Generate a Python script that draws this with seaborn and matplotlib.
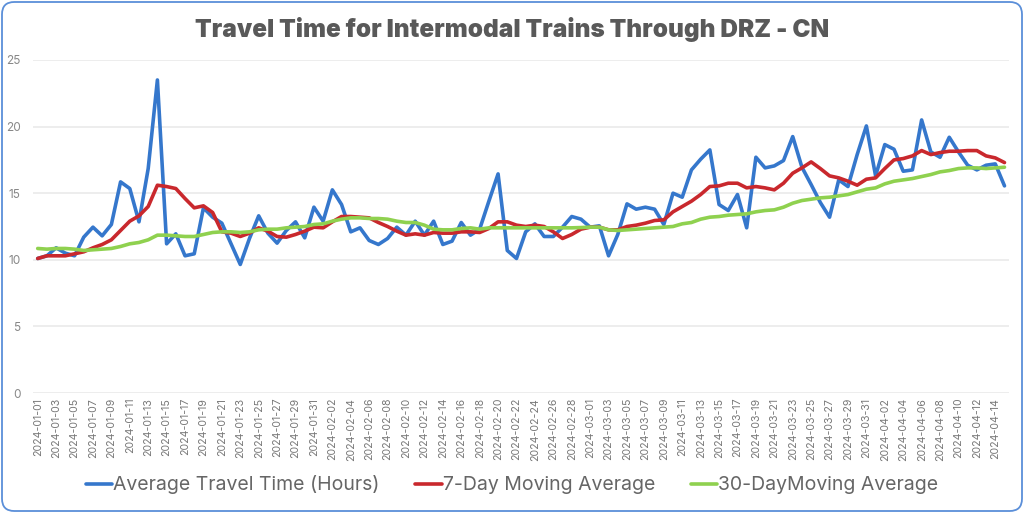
"""
Description: Travel time for intermodal trains through DRZ (CN), daily values
with the 7-day and 30-day moving averages.
"""

import matplotlib
matplotlib.use('Agg')

import matplotlib.pyplot as plt
from matplotlib.patches import FancyBboxPatch
import pandas as pd
import seaborn as sns

# values, one per day
DATES = pd.date_range('2024-01-01', '2024-04-15').strftime('%Y-%m-%d').tolist()

TRAVEL_TIME = [
    10.1, 10.3, 10.9, 10.5, 10.3, 11.7, 12.45, 11.8, 12.65, 15.85,
    15.35, 12.85, 16.85, 23.5, 11.2, 11.95, 10.3, 10.45, 13.9, 13.2,
    12.75, 11.2, 9.65, 11.6, 13.3, 12.0, 11.25, 12.2, 12.85, 11.65,
    13.95, 12.9, 15.25, 14.15, 12.1, 12.4, 11.45, 11.15, 11.6, 12.45,
    11.85, 12.9, 11.85, 12.9, 11.15, 11.4, 12.8, 11.85, 12.3, 14.4,
    16.45, 10.7, 10.1, 12.1, 12.7, 11.75, 11.75, 12.45, 13.25, 13.05,
    12.45, 12.55, 10.3, 11.9, 14.2, 13.8, 13.95, 13.8, 12.65, 15.0,
    14.7, 16.75, 17.55, 18.25, 14.15, 13.7, 14.9, 12.4, 17.7, 16.9,
    17.05, 17.45, 19.25, 16.95, 15.65, 14.3, 13.2, 16.0, 15.5, 17.9,
    20.05, 16.3, 18.65, 18.3, 16.65, 16.75, 20.5, 18.1, 17.7, 19.2,
    18.1, 17.1, 16.75, 17.1, 17.2, 15.55,
]

AVG_7_DAY = [
    10.1, 10.3, 10.3, 10.3, 10.45, 10.6, 10.9, 11.15, 11.5, 12.2,
    12.9, 13.3, 14.0, 15.6, 15.5, 15.35, 14.6, 13.9, 14.05, 13.55,
    12.1, 12.0, 11.75, 12.0, 12.4, 12.15, 11.75, 11.7, 11.9, 12.15,
    12.45, 12.4, 12.85, 13.25, 13.25, 13.2, 13.15, 12.8, 12.5, 12.15,
    11.85, 11.95, 11.85, 12.05, 12.0, 12.0, 12.1, 12.1, 12.05, 12.35,
    12.85, 12.85, 12.6, 12.5, 12.6, 12.5, 12.1, 11.6, 11.9, 12.3,
    12.45, 12.45, 12.25, 12.25, 12.5, 12.6, 12.75, 12.95, 13.0, 13.6,
    14.0, 14.4, 14.9, 15.5, 15.55, 15.75, 15.75, 15.4, 15.5, 15.4,
    15.25, 15.75, 16.5, 16.9, 17.35, 16.85, 16.3, 16.15, 15.9, 15.6,
    16.05, 16.15, 16.85, 17.5, 17.6, 17.8, 18.2, 17.9, 18.05, 18.15,
    18.15, 18.2, 18.2, 17.8, 17.65, 17.3,
]

AVG_30_DAY = [
    10.85, 10.8, 10.85, 10.85, 10.8, 10.7, 10.75, 10.8, 10.85, 11.0,
    11.2, 11.3, 11.5, 11.85, 11.85, 11.8, 11.75, 11.75, 11.9, 12.05,
    12.1, 12.1, 12.05, 12.1, 12.25, 12.3, 12.3, 12.4, 12.45, 12.5,
    12.65, 12.7, 12.9, 13.05, 13.15, 13.15, 13.1, 13.1, 13.05, 12.9,
    12.8, 12.8, 12.6, 12.3, 12.25, 12.25, 12.35, 12.4, 12.3, 12.4,
    12.4, 12.4, 12.4, 12.4, 12.4, 12.4, 12.4, 12.4, 12.4, 12.42,
    12.45, 12.45, 12.25, 12.2, 12.25, 12.3, 12.35, 12.4, 12.45, 12.5,
    12.7, 12.8, 13.05, 13.2, 13.25, 13.35, 13.4, 13.45, 13.6, 13.7,
    13.75, 13.95, 14.25, 14.45, 14.55, 14.65, 14.7, 14.8, 14.9, 15.1,
    15.3, 15.4, 15.7, 15.9, 16.0, 16.1, 16.25, 16.4, 16.6, 16.7,
    16.85, 16.9, 16.9, 16.85, 16.9, 16.95,
]

SERIES_NAMES = ['Average Travel Time (Hours)', '7-Day Moving Average', '30-DayMoving Average']
COLORS = ['#3577CC', '#C9282D', '#8FD14F']
Y_TICKS = [0, 5, 10, 15, 20, 25]

sns.set_style('white')
plt.rcParams['font.family'] = ['Inter', 'DejaVu Sans']

df = pd.DataFrame({
    'date': DATES * 3,
    'hours': TRAVEL_TIME + AVG_7_DAY + AVG_30_DAY,
    'series': [name for name in SERIES_NAMES for _ in DATES],
})

fig = plt.figure(figsize=(10.24, 5.13), dpi=100)
ax = fig.add_axes([33.1 / 1024, 1 - 393 / 513, 976 / 1024, 333 / 513])

# rounded card around the whole chart
fig.add_artist(FancyBboxPatch((2 / 1024, 2 / 513), 1020 / 1024, 509 / 513,
                              boxstyle='round,pad=0,rounding_size=0.012',
                              mutation_aspect=2, transform=fig.transFigure,
                              facecolor='none', edgecolor='#5B8FD9', linewidth=1.3))

sns.lineplot(data=df, x='date', y='hours', hue='series', hue_order=SERIES_NAMES,
             palette=COLORS, linewidth=2.6, sort=False, ax=ax)

ax.set_xlim(-0.5, len(DATES) - 0.5)
ax.set_ylim(0, 25)
ax.set_xlabel('')
ax.set_ylabel('')
ax.set_yticks(Y_TICKS)
ax.set_xticks(range(0, len(DATES), 2))
ax.set_xticklabels(DATES[::2], rotation=90, fontsize=7.6, color='#777777')
ax.tick_params(axis='x', length=0, pad=3.5)
ax.tick_params(axis='y', length=0, pad=9, labelsize=8.5, labelcolor='#888888')
ax.grid(axis='y', color='#E8E8E8', linewidth=1.1)
ax.set_axisbelow(True)
sns.despine(ax=ax, left=True, bottom=True)

fig.text(0.5, 1 - 29 / 513, 'Travel Time for Intermodal Trains Through DRZ - CN',
         ha='center', va='center', fontsize=17.5, fontweight='black', color='#595959')

ax.legend(title=None, loc='center', bbox_to_anchor=(0.5, 1 - 485 / 513),
          bbox_transform=fig.transFigure, ncol=3, frameon=False, fontsize=14,
          handlelength=1.35, handletextpad=0.05, columnspacing=1.85, labelcolor='#666666')

fig.savefig('out.png', dpi=100)
plt.close()
